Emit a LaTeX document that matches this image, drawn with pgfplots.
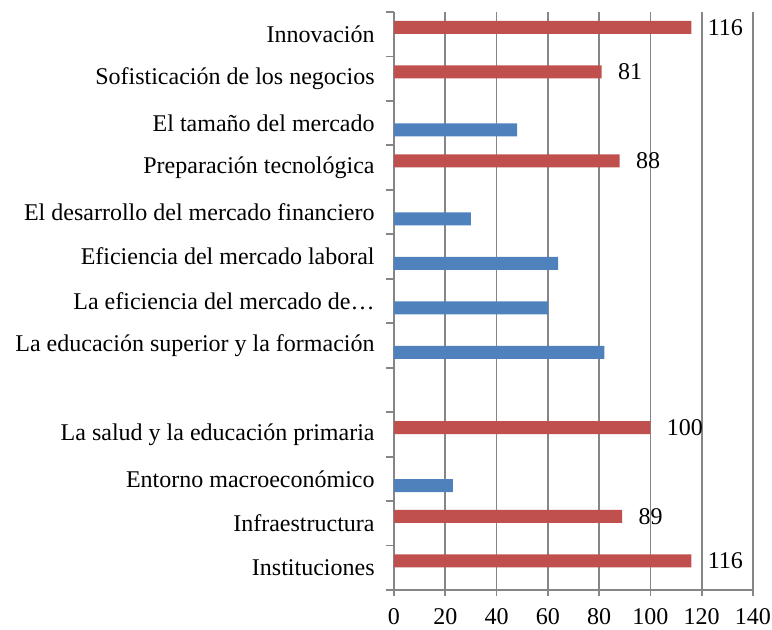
\documentclass[border=0pt]{standalone}
\usepackage{fontspec}
\setmainfont{Liberation Serif}
\usepackage{pgfplots}
\pgfplotsset{compat=1.18}
\definecolor{barR}{HTML}{C0504D}
\definecolor{barB}{HTML}{4F81BD}
\definecolor{gridG}{HTML}{868686}

\begin{document}
\fontsize{12}{14}\selectfont
\begin{tikzpicture}
\begin{axis}[
  name=ax, scale only axis, width=179.5pt, height=289pt,
  xbar, bar width=6.5pt,
  xmin=0, xmax=140, xtick={0,20,...,140},
  ymin=-0.5, ymax=12.5, ytick={0,...,12},
  yticklabels={Instituciones,Infraestructura,Entorno macroeconómico,
    La salud y la educación primaria,{},
    La educación superior y la formación,La eficiencia del mercado de…,
    Eficiencia del mercado laboral,El desarrollo del mercado financiero,
    Preparación tecnológica,El tamaño del mercado,
    Sofisticación de los negocios,Innovación},
  minor ytick={-0.5,0.5,...,12.5},
  axis x line*=bottom, axis y line*=left,
  axis line style={gridG, line width=0.9pt, -},
  xmajorgrids, grid style={gridG, line width=0.9pt},
  tick align=outside,
  major tick length=3pt, minor tick length=4pt,
  major y tick style={draw=none},
  minor y tick style={gridG, line width=0.9pt},
  major x tick style={gridG, line width=0.9pt},
  font=\fontsize{12}{14}\selectfont,
  /pgf/number format/assume math mode=true,
  yticklabel style={inner sep=0pt, xshift=-6.5pt},
  xticklabel style={inner sep=0pt, yshift=-6pt},
  nodes near coords style={font=\fontsize{12}{14}\selectfont, anchor=west, inner sep=0pt, xshift=8pt},
]
\addplot[fill=barB, draw=none, bar shift=-3.4pt] coordinates {
  (23,2) (82,5) (60,6) (64,7) (30,8) (48,10)};
\addplot[fill=barR, draw=none, bar shift=3.4pt, nodes near coords] coordinates {
  (116,0) (89,1) (100,3) (88,9) (81,11) (116,12)};
\end{axis}
\pgfresetboundingbox
\path ([shift={(-197pt,-20pt)}]ax.south west) rectangle ([shift={(189pt,295pt)}]ax.south west);
\end{tikzpicture}
\end{document}
